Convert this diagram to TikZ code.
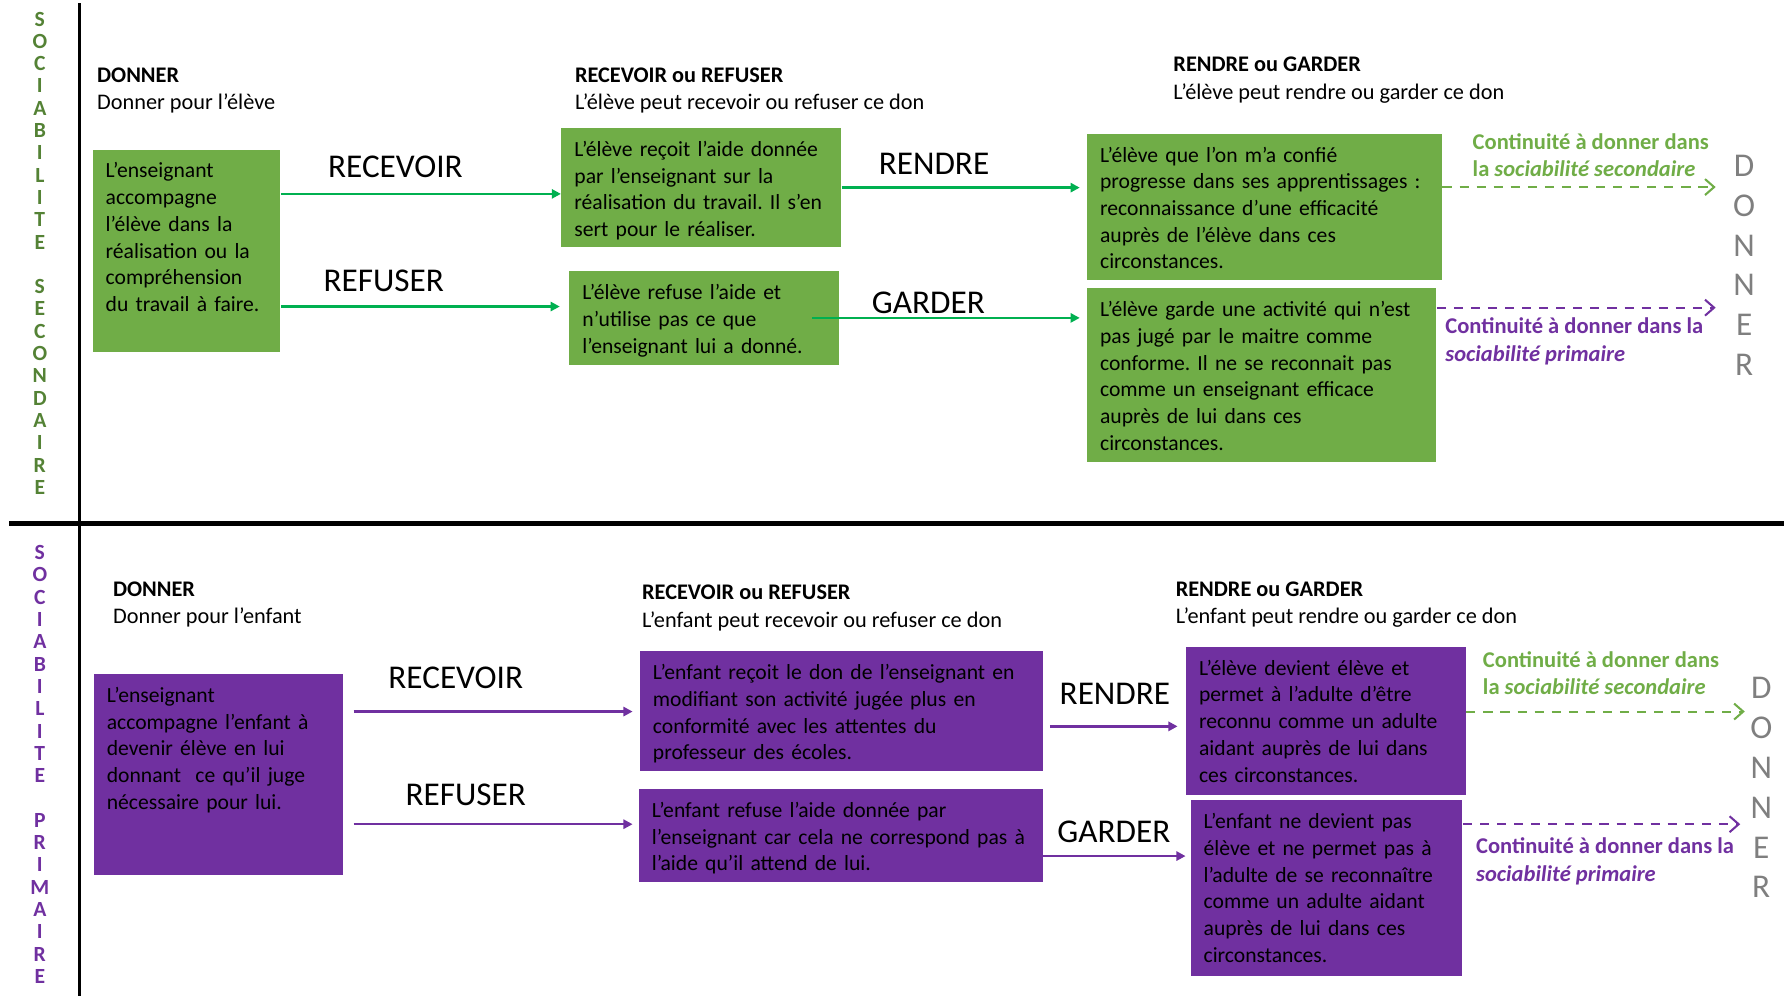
\documentclass[tikz,border=0pt]{standalone}
\usepackage{fontspec}
\setmainfont{Carlito}
\usetikzlibrary{arrows.meta}
\definecolor{BoxGreen}{HTML}{70AD47}
\definecolor{BoxPurple}{HTML}{7030A0}
\definecolor{FlowGreen}{HTML}{00B050}
\definecolor{SideGreen}{HTML}{548235}
\definecolor{GiveGray}{HTML}{7F7F7F}
\newcommand{\cellfont}{\fontsize{9.5}{11.75}\selectfont}
\newcommand{\headfont}{\fontsize{9.8}{12}\selectfont}
\newcommand{\verbfont}{\fontsize{14.6}{17.5}\selectfont}
\frenchspacing
\tikzset{
  greenbox/.style={fill=BoxGreen, anchor=north west, align=left, inner xsep=5.75pt, inner ysep=0pt, text height=12.5pt, font=\cellfont},
  purplebox/.style={greenbox, fill=BoxPurple},
  head/.style={anchor=north west, inner sep=0pt, align=left, font=\headfont},
  verb/.style={anchor=west, inner sep=0pt, font=\verbfont},
  note/.style={anchor=north west, inner sep=0pt, align=left, font=\fontsize{9.9}{12}\selectfont\bfseries},
  sidetext/.style={anchor=north, inner sep=0pt, align=center, font=\fontsize{9.5}{9.8}\selectfont\bfseries},
  givetext/.style={anchor=north, inner sep=0pt, align=center, font=\verbfont, text=GiveGray},
  greenarrow/.style={-{Triangle[length=4pt, width=4pt]}, line width=1pt, draw=FlowGreen},
  purplearrow/.style={-{Triangle[length=4pt, width=4pt]}, line width=1pt, draw=BoxPurple},
  greendash/.style={-{Straight Barb[length=4pt, width=7pt]}, line width=0.9pt, dash pattern=on 4pt off 3.5pt, draw=BoxGreen},
  purpledash/.style={greendash, draw=BoxPurple}
}
\begin{document}
\begin{tikzpicture}[x=0.5pt, y=-0.5pt]
\useasboundingbox (0,0) rectangle (1568,875);
% frame
\draw[line width=1.5pt] (70,3) -- (70,875);
\draw[line width=2pt] (8,460) -- (1568,460);
\node[sidetext, text=SideGreen] (side1) at (35,10) {S\\O\\C\\I\\A\\B\\I\\L\\I\\T\\E\\[9.8pt]S\\E\\C\\O\\N\\D\\A\\I\\R\\E};
\node[sidetext, text=BoxPurple] (side2) at (35,479) {S\\O\\C\\I\\A\\B\\I\\L\\I\\T\\E\\[9.8pt]P\\R\\I\\M\\A\\I\\R\\E};
\node[givetext] (next1) at (1533,136) {D\\O\\N\\N\\E\\R};
\node[givetext] (next2) at (1548,595) {D\\O\\N\\N\\E\\R};

% sociabilite secondaire
\node[head] (h11) at (85,59) {\textbf{DONNER}\\Donner pour l’élève};
\node[head] (h12) at (505,59) {\textbf{RECEVOIR ou REFUSER}\\L’élève peut recevoir ou refuser ce don};
\node[head] (h13) at (1031,50) {\textbf{RENDRE ou GARDER}\\L’élève peut rendre ou garder ce don};
\node[greenbox, text width=71pt, text depth=76.5pt] (don1) at (81,131) {L’enseignant\\accompagne\\l’élève dans la\\réalisation ou la\\compréhension\\du travail à faire.};
\node[greenbox, text width=111.5pt, text depth=40pt] (rec1) at (493,112) {L’élève reçoit l’aide donnée\\par l’enseignant sur la\\réalisation du travail. Il s’en\\sert pour le réaliser.};
\node[greenbox, text width=107pt, text depth=28.5pt] (ref1) at (500,238) {L’élève refuse l’aide et\\n’utilise pas ce que\\l’enseignant lui a donné.};
\node[greenbox, text width=144.5pt, text depth=52pt] (ren1) at (955,117) {L’élève que l’on m’a confié\\progresse dans ses apprentissages :\\reconnaissance d’une efficacité\\auprès de l’élève dans ces\\circonstances.};
\node[greenbox, text width=142pt, text depth=64pt] (gar1) at (955,253) {L’élève garde une activité qui n’est\\pas jugé par le maitre comme\\conforme. Il ne se reconnait pas\\comme un enseignant efficace\\auprès de lui dans ces\\circonstances.};
\node[verb] (v11) at (288,147) {RECEVOIR};
\node[verb] (v12) at (284,247) {REFUSER};
\node[verb] (v13) at (772,144) {RENDRE};
\node[verb] (v14) at (766,266) {GARDER};
\node[note, text=BoxGreen] (n11) at (1294,117) {Continuité à donner dans\\la \textit{sociabilité secondaire}};
\node[note, text=BoxPurple] (n12) at (1270,279) {Continuité à donner dans la\\\textit{sociabilité primaire}};
\draw[greenarrow] ([yshift=25pt]don1.east) -- ([yshift=25pt]don1.east -| rec1.west);
\draw[greenarrow, shorten >=4pt] ([yshift=-24.5pt]don1.east) -- ([yshift=-24.5pt]don1.east -| ref1.west);
\draw[greenarrow, shorten >=3pt] (rec1.east) -- (rec1.east -| ren1.west);
\draw[greenarrow, shorten >=3pt] ([xshift=-12pt]ref1.east) -- (ref1.east -| gar1.west);
\draw[greendash, shorten >=7.5pt] ([yshift=8.75pt]ren1.east) -- ([yshift=8.75pt]ren1.east -| next1.west);
\draw[purpledash, shorten >=7.5pt] ([yshift=29.75pt]gar1.east) -- ([yshift=29.75pt]gar1.east -| next1.west);

% sociabilite primaire
\node[head] (h21) at (99,511) {\textbf{DONNER}\\Donner pour l’enfant};
\node[head] (h22) at (564,514) {\textbf{RECEVOIR ou REFUSER}\\L’enfant peut recevoir ou refuser ce don};
\node[head] (h23) at (1033,511) {\textbf{RENDRE ou GARDER}\\L’enfant peut rendre ou garder ce don};
\node[purplebox, text width=98pt, text depth=76pt] (don2) at (82,592) {L’enseignant\\accompagne l’enfant à\\devenir élève en lui\\donnant ~ce qu’il juge\\nécessaire pour lui.};
\node[purplebox, text width=165.5pt, text depth=40pt] (rec2) at (562,572) {L’enfant reçoit le don de l’enseignant en\\modifiant son activité jugée plus en\\conformité avec les attentes du\\professeur des écoles.};
\node[purplebox, text width=166pt, text depth=28.5pt] (ref2) at (561,693) {L’enfant refuse l’aide donnée par\\l’enseignant car cela ne correspond pas à\\l’aide qu’il attend de lui.};
\node[purplebox, text width=111.5pt, text depth=52.5pt] (ren2) at (1042,568) {L’élève devient élève et\\permet à l’adulte d’être\\reconnu comme un adulte\\aidant auprès de lui dans\\ces circonstances.};
\node[purplebox, text width=108pt, text depth=64.5pt] (gar2) at (1046,703) {L’enfant ne devient pas\\élève et ne permet pas à\\l’adulte de se reconnaître\\comme un adulte aidant\\auprès de lui dans ces\\circonstances.};
\node[verb] (v21) at (341,596) {RECEVOIR};
\node[verb] (v22) at (356,699) {REFUSER};
\node[verb] (v23) at (931,610) {RENDRE};
\node[verb] (v24) at (929,731) {GARDER};
\node[note, text=BoxGreen] (n21) at (1303,572) {Continuité à donner dans\\la \textit{sociabilité secondaire}};
\node[note, text=BoxPurple] (n22) at (1297,736) {Continuité à donner dans la\\\textit{sociabilité primaire}};
\draw[purplearrow, shorten <=4.5pt, shorten >=3pt] ([yshift=27.75pt]don2.east) -- ([yshift=27.75pt]don2.east -| rec2.west);
\draw[purplearrow, shorten <=4.5pt, shorten >=2.5pt] ([yshift=-21.75pt]don2.east) -- ([yshift=-21.75pt]don2.east -| ref2.west);
\draw[purplearrow, shorten <=3pt, shorten >=3.5pt] ([yshift=-6.75pt]rec2.east) -- ([yshift=-6.75pt]rec2.east -| ren2.west);
\draw[purplearrow, shorten >=2pt] ([yshift=-9pt]ref2.east) -- ([yshift=-9pt]ref2.east -| gar2.west);
\draw[greendash, shorten >=2.2pt] ([yshift=4pt]ren2.east) -- ([yshift=4pt]ren2.east -| next2.west);
\draw[purpledash, shorten >=4.2pt] ([yshift=28pt]gar2.east) -- ([yshift=28pt]gar2.east -| next2.west);
\end{tikzpicture}
\end{document}
